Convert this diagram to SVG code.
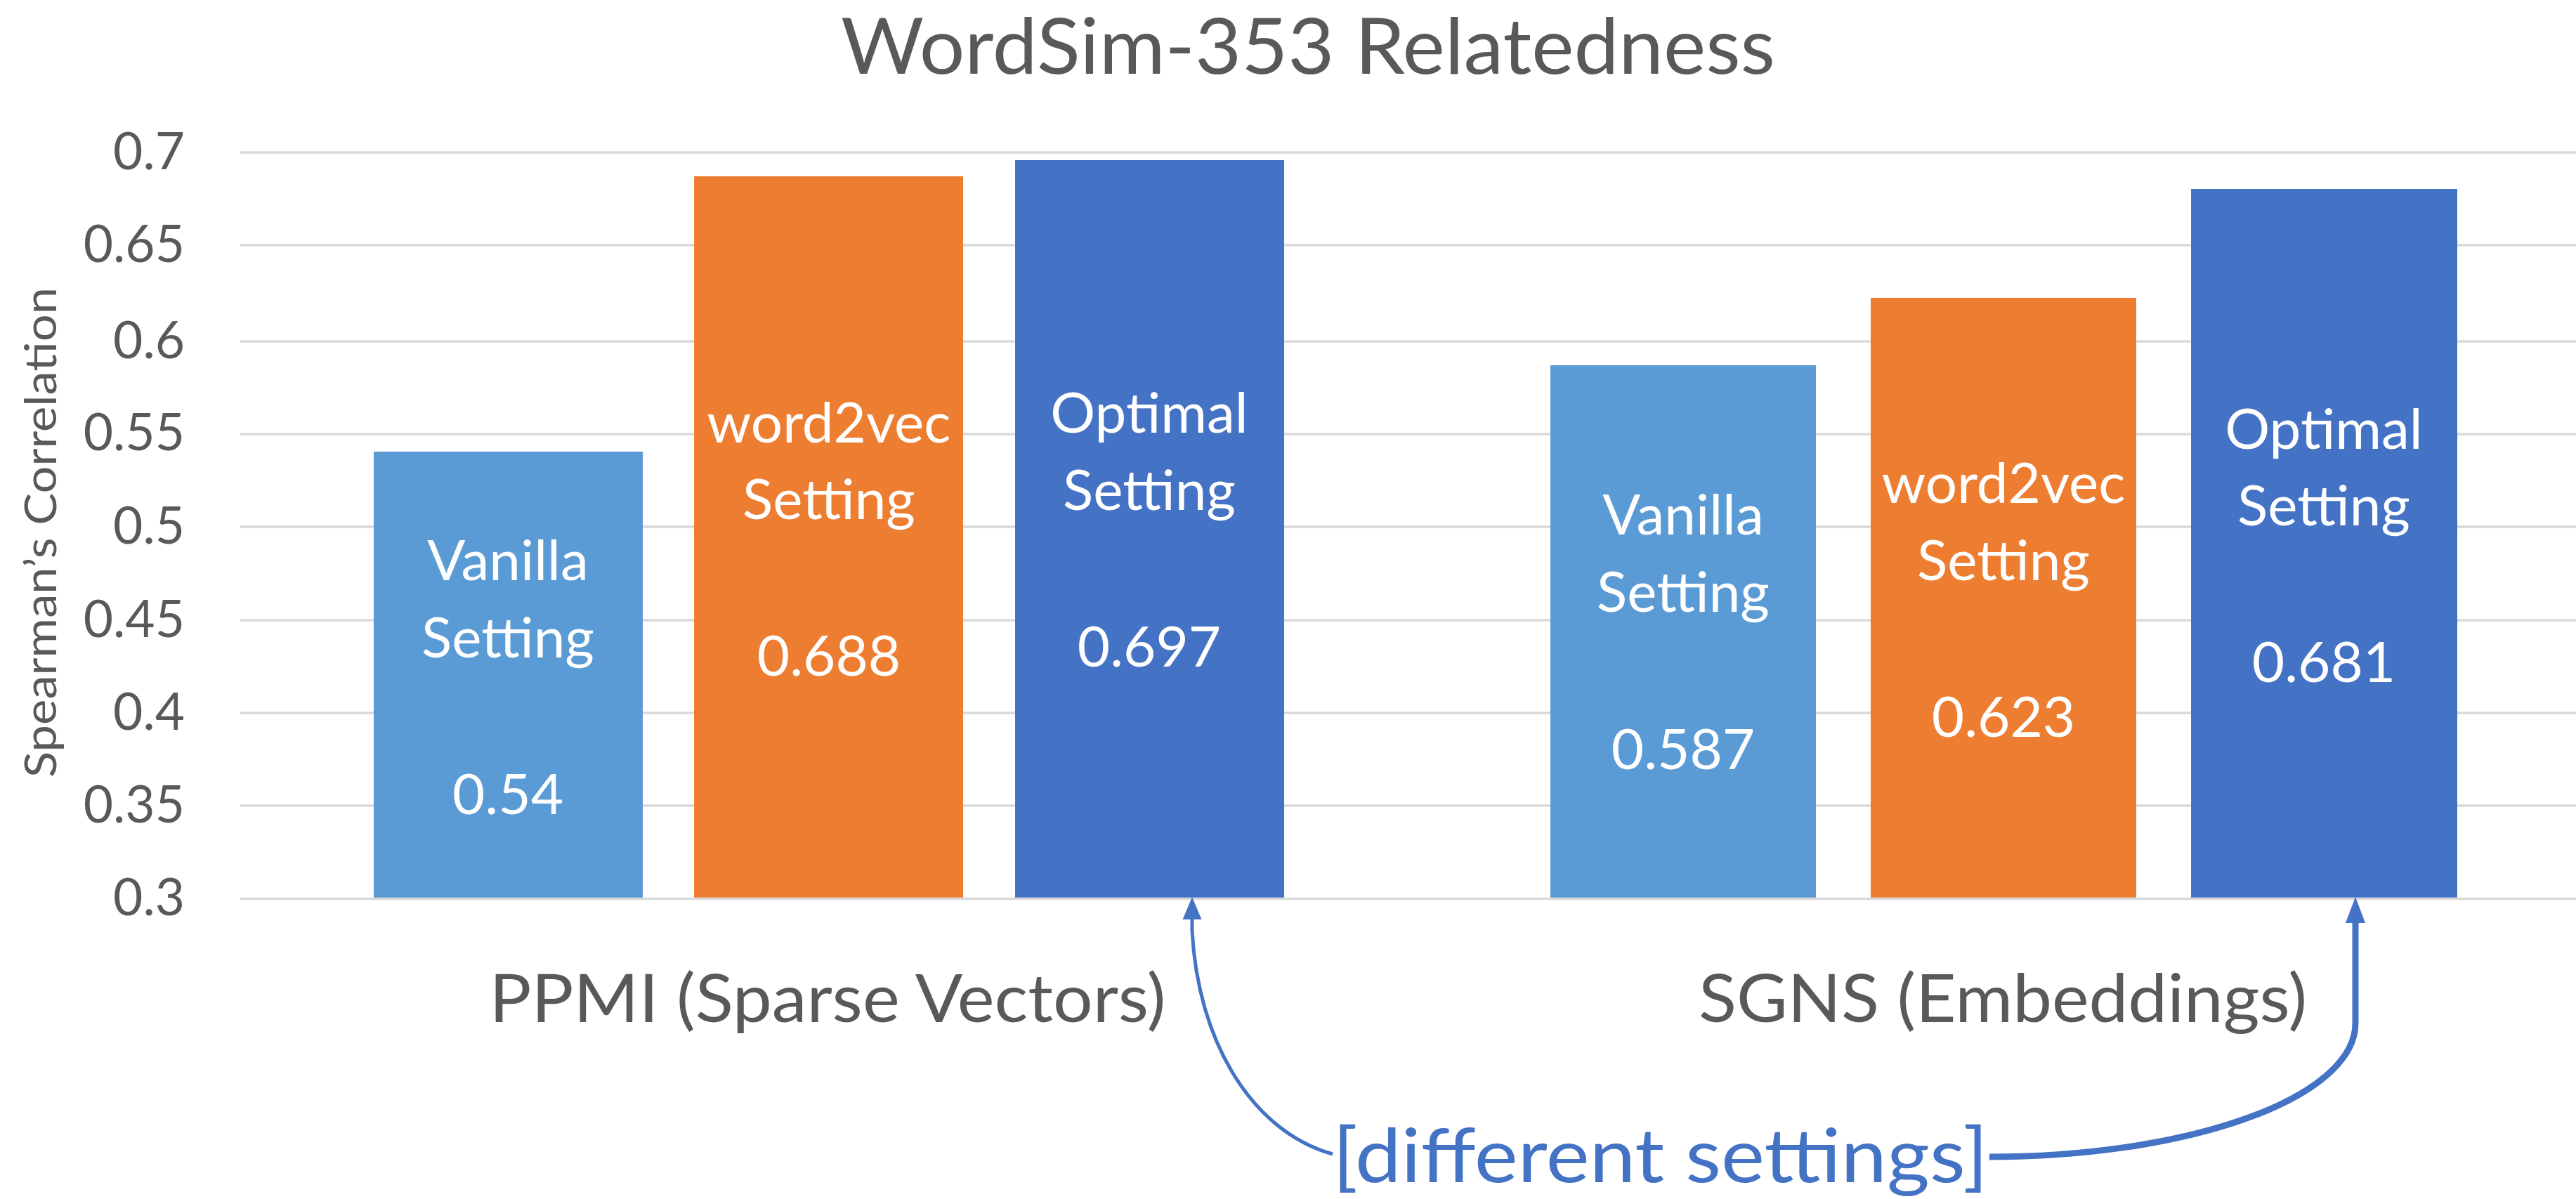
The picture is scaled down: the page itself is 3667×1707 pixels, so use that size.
<svg xmlns="http://www.w3.org/2000/svg" width="3667" height="1707" viewBox="0 0 3667 1707">
<style>
.grid{stroke:#D9D9D9;stroke-width:3.5}
.tick{font-family:Lato,"Liberation Sans",sans-serif;font-size:73px;fill:#595959;text-anchor:end}
.title{font-family:Lato,"Liberation Sans",sans-serif;font-size:110px;fill:#595959}
.axt{font-family:Lato,"Liberation Sans",sans-serif;font-size:62px;fill:#595959;text-anchor:middle}
.cat{font-family:Lato,"Liberation Sans",sans-serif;font-size:95px;fill:#595959;text-anchor:middle}
.lbl{font-family:Lato,"Liberation Sans",sans-serif;font-size:80px;fill:#FFFFFF;text-anchor:middle}
.v{fill:#5B9BD5}.w{fill:#ED7D31}.o{fill:#4472C4}
.conn{fill:none;stroke:#4472C4}
.note{font-family:Lato,"Liberation Sans",sans-serif;font-size:107px;fill:#4472C4}
</style>
<defs>
<marker id="ahL" markerUnits="userSpaceOnUse" markerWidth="34" markerHeight="30" refX="0" refY="15" orient="auto"><path d="M0,1.5 L32,15 L0,28.5 z" fill="#4472C4"/></marker>
<marker id="ahR" markerUnits="userSpaceOnUse" markerWidth="40" markerHeight="30" refX="0" refY="15" orient="auto"><path d="M0,1 L37,15 L0,29 z" fill="#4472C4"/></marker>
</defs>
<rect width="3667" height="1707" fill="#FFFFFF"/>
<g id="title"><text class="title" x="1197" y="105" textLength="1330" lengthAdjust="spacingAndGlyphs">WordSim-353 Relatedness</text></g>
<g id="grid">
<line class="grid" x1="342" y1="217" x2="3667" y2="217"/>
<line class="grid" x1="342" y1="349" x2="3667" y2="349"/>
<line class="grid" x1="342" y1="486" x2="3667" y2="486"/>
<line class="grid" x1="342" y1="618" x2="3667" y2="618"/>
<line class="grid" x1="342" y1="750" x2="3667" y2="750"/>
<line class="grid" x1="342" y1="883" x2="3667" y2="883"/>
<line class="grid" x1="342" y1="1015" x2="3667" y2="1015"/>
<line class="grid" x1="342" y1="1147" x2="3667" y2="1147"/>
</g>
<g id="yaxis">
<text class="tick" x="263" y="241">0.7</text>
<text class="tick" x="263" y="373">0.65</text>
<text class="tick" x="263" y="510">0.6</text>
<text class="tick" x="263" y="641">0.55</text>
<text class="tick" x="263" y="774">0.5</text>
<text class="tick" x="263" y="907">0.45</text>
<text class="tick" x="263" y="1039">0.4</text>
<text class="tick" x="263" y="1171">0.35</text>
<text class="tick" x="263" y="1303">0.3</text>
<text class="axt" transform="translate(80,758) rotate(-90)" textLength="698" lengthAdjust="spacingAndGlyphs">Spearman’s Correlation</text>
</g>
<g id="ppmi-vanilla"><rect class="v" x="532" y="643" width="383" height="635"/><text class="lbl" x="723" y="826">Vanilla</text><text class="lbl" x="723" y="936">Setting</text><text class="lbl" x="723" y="1159">0.54</text></g>
<g id="ppmi-word2vec"><rect class="w" x="988" y="251" width="383" height="1027"/><text class="lbl" x="1180" y="630">word2vec</text><text class="lbl" x="1180" y="739">Setting</text><text class="lbl" x="1180" y="962">0.688</text></g>
<g id="ppmi-optimal"><rect class="o" x="1445" y="228" width="383" height="1050"/><text class="lbl" x="1636" y="616">Optimal</text><text class="lbl" x="1636" y="726">Setting</text><text class="lbl" x="1636" y="949">0.697</text></g>
<g id="sgns-vanilla"><rect class="v" x="2207" y="520" width="378" height="758"/><text class="lbl" x="2396" y="761">Vanilla</text><text class="lbl" x="2396" y="871">Setting</text><text class="lbl" x="2396" y="1095">0.587</text></g>
<g id="sgns-word2vec"><rect class="w" x="2663" y="424" width="378" height="854"/><text class="lbl" x="2852" y="716">word2vec</text><text class="lbl" x="2852" y="826">Setting</text><text class="lbl" x="2852" y="1049">0.623</text></g>
<g id="sgns-optimal"><rect class="o" x="3119" y="269" width="379" height="1009"/><text class="lbl" x="3308" y="639">Optimal</text><text class="lbl" x="3308" y="748">Setting</text><text class="lbl" x="3308" y="971">0.681</text></g>
<line class="grid" x1="342" y1="1279.5" x2="3667" y2="1279.5"/>
<g id="categories">
<text class="cat" x="1178" y="1455" textLength="963" lengthAdjust="spacingAndGlyphs">PPMI (Sparse Vectors)</text>
<text class="cat" x="2851" y="1455" textLength="866" lengthAdjust="spacingAndGlyphs">SGNS (Embeddings)</text>
</g>
<g id="note"><text class="note" x="1897" y="1683" textLength="933" lengthAdjust="spacingAndGlyphs">[different settings]</text></g>
<g id="connectors">
<path class="conn" stroke-width="5" d="M1897,1643 C1780,1610 1705,1480 1697,1325 L1697,1309" marker-end="url(#ahL)"/>
<path class="conn" stroke-width="9" d="M2832,1647 A521,190 0 0 0 3353,1457 L3353,1314" marker-end="url(#ahR)"/>
</g>
</svg>
